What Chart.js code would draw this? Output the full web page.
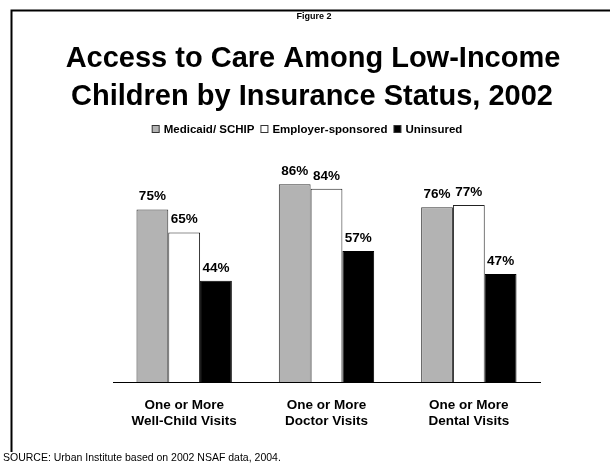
<!DOCTYPE html>
<html>
<head>
<meta charset="utf-8">
<script src="https://cdn.jsdelivr.net/npm/chart.js@4.4.1/dist/chart.umd.min.js"></script>
<style>
  html, body { margin: 0; padding: 0; background: #fff; }
  canvas { display: block; }
</style>
</head>
<body>
<canvas id="accessChart" width="610" height="466"></canvas>
<script>
  // Data
  const categories = [
    ['One or More', 'Well-Child Visits'],
    ['One or More', 'Doctor Visits'],
    ['One or More', 'Dental Visits']
  ];
  const seriesNames = ['Medicaid/ SCHIP', 'Employer-sponsored', 'Uninsured'];
  const medicaidValues = [75, 86, 76];
  const employerValues = [65, 84, 77];
  const uninsuredValues = [44, 57, 47];

  const figureLabel = 'Figure 2';
  const titleLines = ['Access to Care Among Low-Income', 'Children by Insurance Status, 2002'];
  const sourceNote = 'SOURCE: Urban Institute based on 2002 NSAF data, 2004.';

  const FONT = '"Liberation Sans", Arial, sans-serif';

  // Frame, titles, legend, source note and value labels
  const decorPlugin = {
    id: 'decor',
    afterDatasetsDraw(chart) {
      const ctx = chart.ctx;
      ctx.save();
      ctx.fillStyle = '#000';
      ctx.textBaseline = 'bottom';
      ctx.textAlign = 'center';
      ctx.font = 'bold 13.5px ' + FONT;
      chart.data.datasets.forEach((ds, i) => {
        const meta = chart.getDatasetMeta(i);
        meta.data.forEach((bar, j) => {
          ctx.fillText(ds.data[j] + '%', bar.x, bar.y - 6);
        });
      });
      ctx.restore();
    },
    afterDraw(chart) {
      const ctx = chart.ctx;
      ctx.save();

      // frame (top and left only)
      ctx.strokeStyle = '#000';
      ctx.lineWidth = 2;
      ctx.beginPath();
      ctx.moveTo(11.5, 452);
      ctx.lineTo(11.5, 10.5);
      ctx.lineTo(610, 10.5);
      ctx.stroke();

      ctx.fillStyle = '#000';
      ctx.textAlign = 'center';
      ctx.textBaseline = 'middle';
      ctx.font = 'bold 9px ' + FONT;
      ctx.fillText(figureLabel, 314, 17);

      ctx.font = 'bold 29px ' + FONT;
      ctx.fillText(titleLines[0], 313, 59);
      ctx.fillText(titleLines[1], 312, 97);

      // legend
      ctx.font = 'bold 11.5px ' + FONT;
      const box = 8, gapText = 4, gapItem = 6;
      const ds = chart.data.datasets;
      let total = 0;
      ds.forEach((d, i) => {
        total += box + gapText + ctx.measureText(d.label).width + (i < ds.length - 1 ? gapItem : 0);
      });
      let x = 307 - total / 2;
      const ly = 129;
      ctx.textAlign = 'left';
      ds.forEach(d => {
        ctx.fillStyle = d.backgroundColor;
        ctx.fillRect(x + 0.5, ly - box / 2 + 0.5, box - 1, box - 1);
        ctx.strokeStyle = '#333';
        ctx.lineWidth = 1;
        ctx.strokeRect(x + 0.5, ly - box / 2 + 0.5, box - 1, box - 1);
        x += box + gapText;
        ctx.fillStyle = '#000';
        ctx.fillText(d.label, x, ly + 0.5);
        x += ctx.measureText(d.label).width + gapItem;
      });

      // source
      ctx.font = '10.5px ' + FONT;
      ctx.fillText(sourceNote, 3, 458);
      ctx.restore();
    }
  };

  const ctx = document.getElementById('accessChart').getContext('2d');
  const accessChart = new Chart(ctx, {
    type: 'bar',
    data: {
      labels: categories,
      datasets: [
        { label: seriesNames[0], data: medicaidValues, backgroundColor: '#b3b3b3', borderColor: '#333', borderWidth: 1 },
        { label: seriesNames[1], data: employerValues, backgroundColor: '#ffffff', borderColor: '#222', borderWidth: 1 },
        { label: seriesNames[2], data: uninsuredValues, backgroundColor: '#000000', borderColor: '#000', borderWidth: 1 }
      ]
    },
    options: {
      responsive: false,
      animation: false,
      layout: { padding: { left: 113, right: 70, top: 152, bottom: 30 } },
      datasets: { bar: { categoryPercentage: 0.67, barPercentage: 1.0 } },
      scales: {
        x: {
          grid: { display: false },
          border: { display: true, color: '#000', width: 1 },
          ticks: {
            color: '#000',
            font: { family: FONT, size: 13.5, weight: 'bold', lineHeight: 1.22 },
            padding: 7,
            maxRotation: 0
          },
          afterFit(scale) { scale.height = 54; }
        },
        y: { display: false, min: 0, max: 100 }
      },
      plugins: {
        legend: { display: false },
        tooltip: { enabled: false }
      }
    },
    plugins: [decorPlugin]
  });
</script>
</body>
</html>
